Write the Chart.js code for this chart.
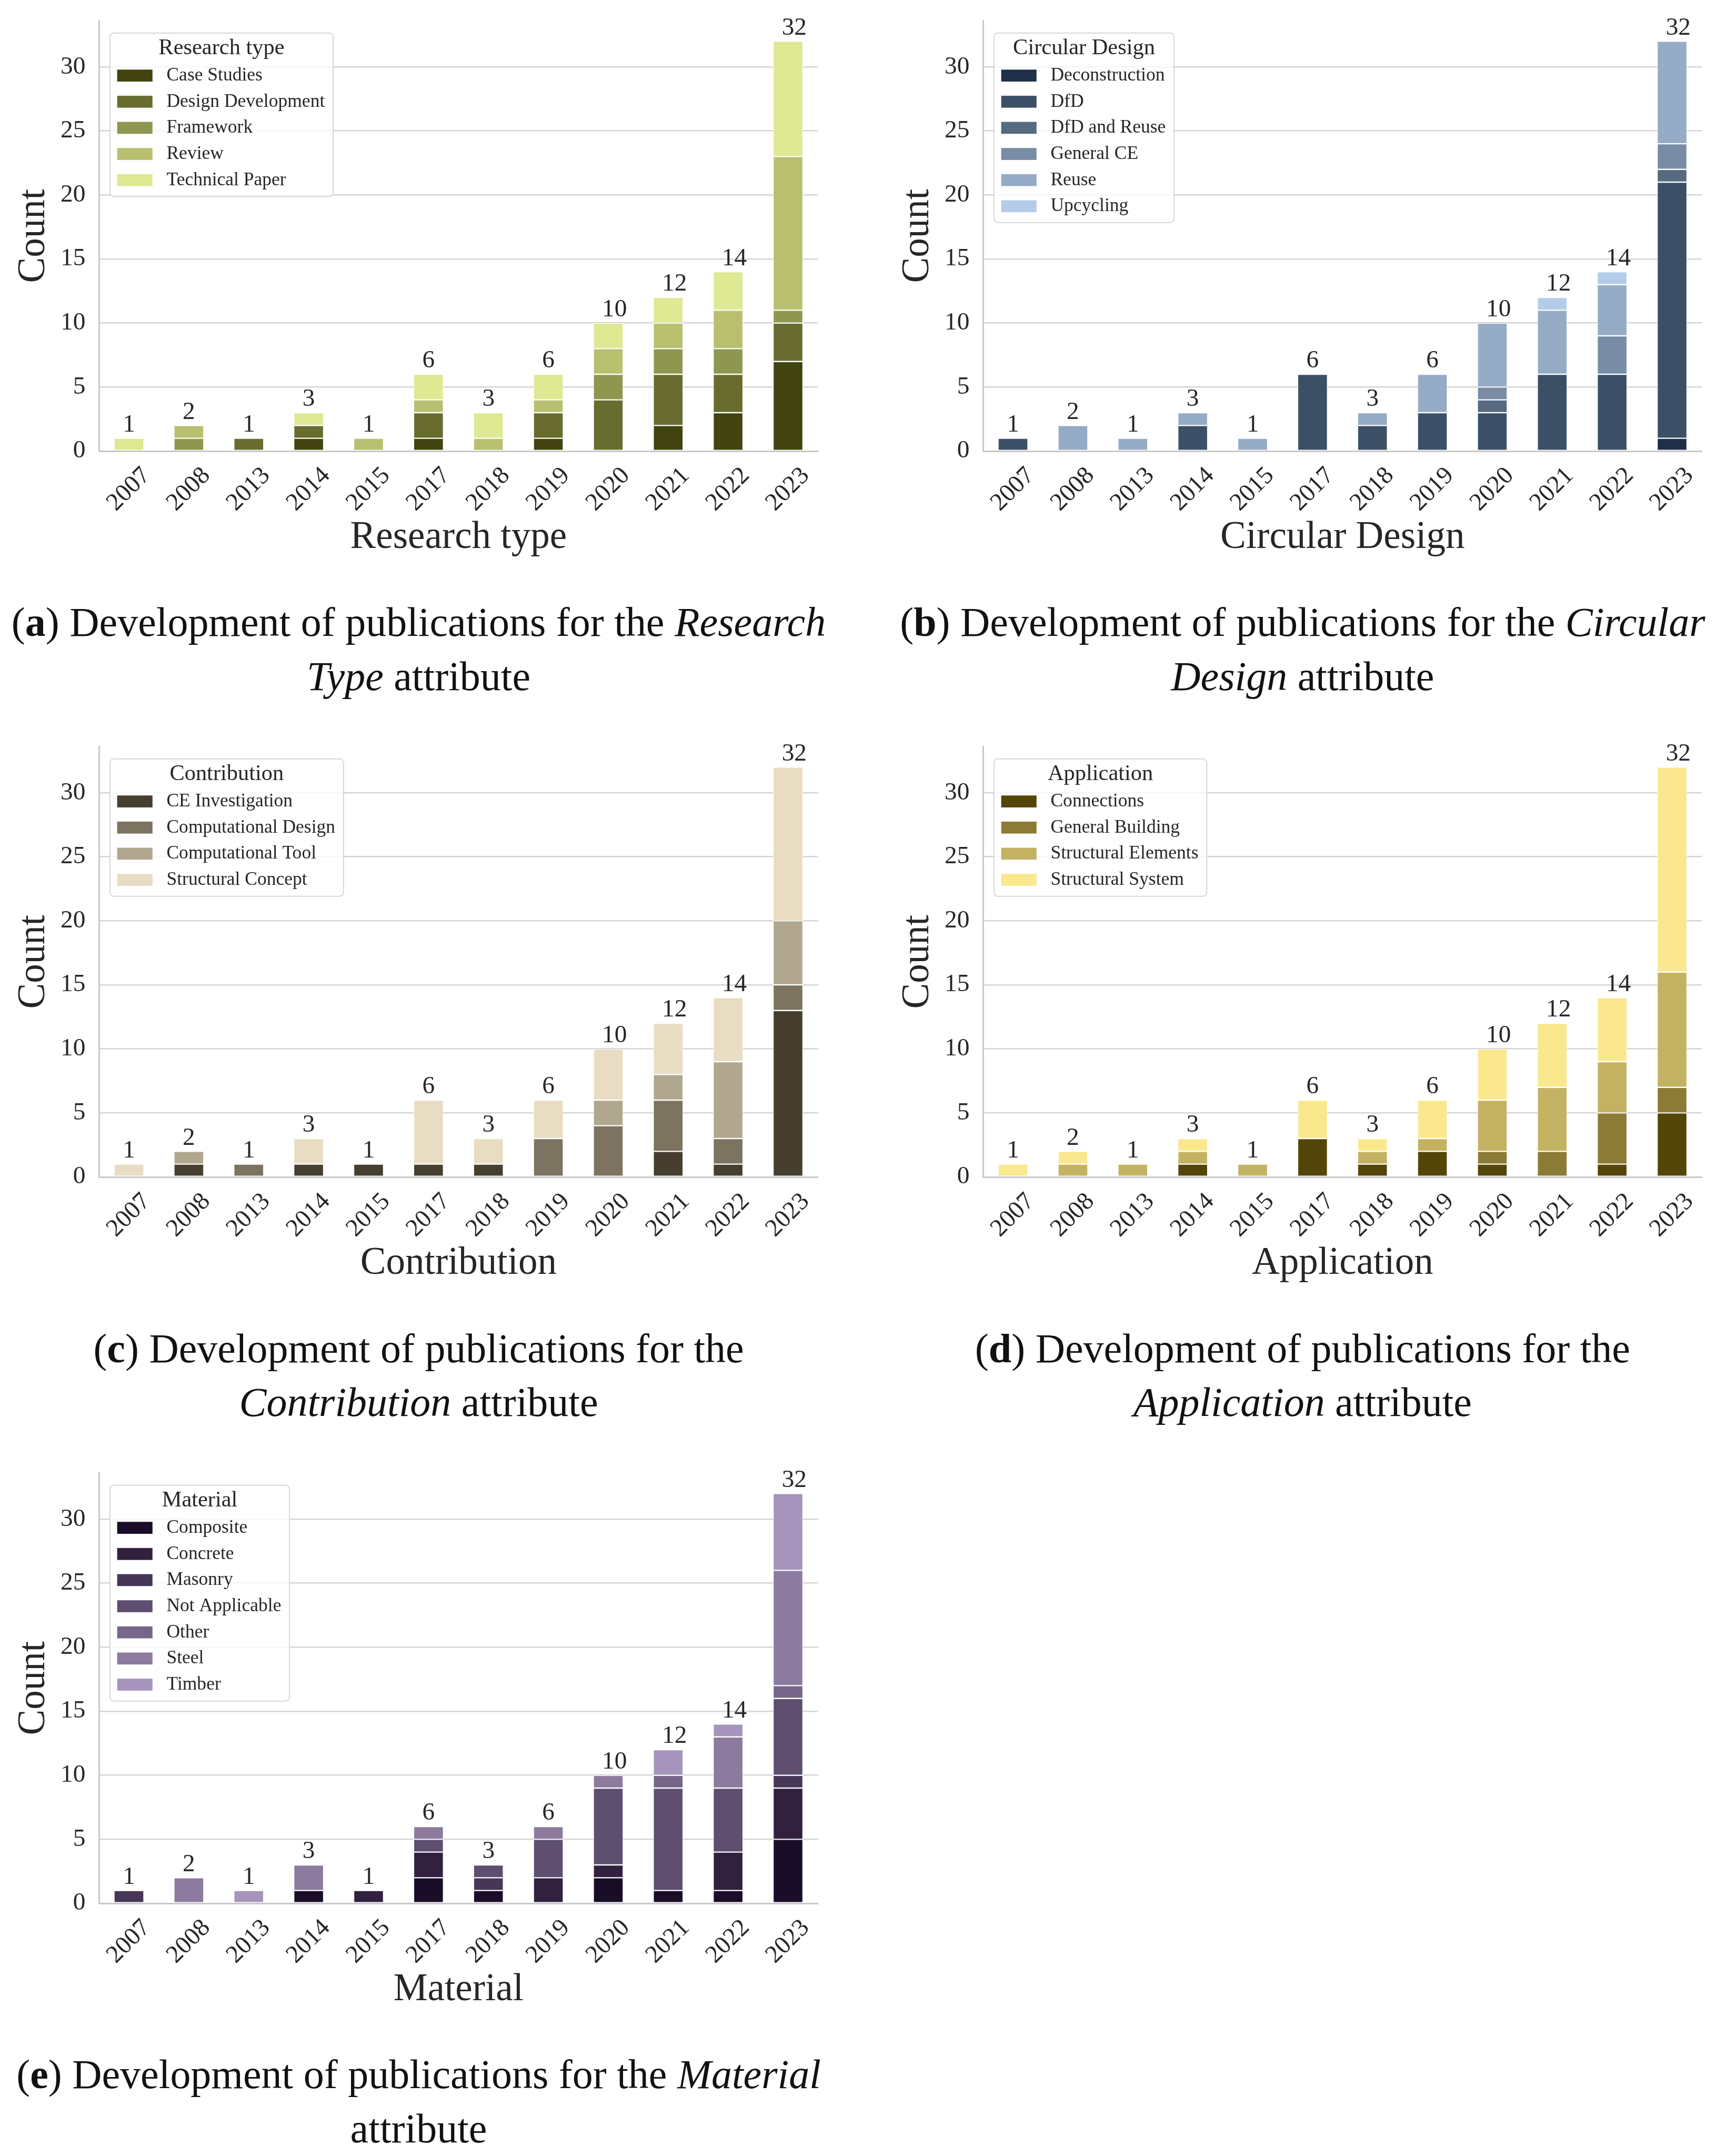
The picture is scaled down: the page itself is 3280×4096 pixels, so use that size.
<!DOCTYPE html>
<html>
<head>
<meta charset="utf-8">
<script src="https://cdn.jsdelivr.net/npm/chart.js@4.4.0/dist/chart.umd.min.js"></script>
<style>
  html, body { margin: 0; padding: 0; background: #fff; }
  #page { position: relative; width: 3280px; height: 4096px; overflow: hidden; background: #fff; }
  canvas { position: absolute; }
  .cap { position: absolute; text-align: center; white-space: nowrap; color: #111; }
</style>
</head>
<body>
<div id="page"></div>
<script>
/* ---------------- DATA ---------------- */
const years  = ["2007", "2008", "2013", "2014", "2015", "2017", "2018", "2019", "2020", "2021", "2022", "2023"];
const yTicks = [0, 5, 10, 15, 20, 25, 30];
const yMax   = 33.6;

// (a) Research type
const rtSeries      = ["Case Studies", "Design Development", "Framework", "Review", "Technical Paper"];
const rtCaseStudies = [0, 0, 0, 1, 0, 1, 0, 1, 0, 2, 3, 7];
const rtDesignDev   = [0, 0, 1, 1, 0, 2, 0, 2, 4, 4, 3, 3];
const rtFramework   = [0, 1, 0, 0, 0, 0, 0, 0, 2, 2, 2, 1];
const rtReview      = [0, 1, 0, 0, 1, 1, 1, 1, 2, 2, 3, 12];
const rtTechPaper   = [1, 0, 0, 1, 0, 2, 2, 2, 2, 2, 3, 9];
const rtColors      = ["#42440f", "#686d2f", "#8f964f", "#b8c070", "#dfe892"];

// (b) Circular Design
const cdSeries         = ["Deconstruction", "DfD", "DfD and Reuse", "General CE", "Reuse", "Upcycling"];
const cdDeconstruction = [0, 0, 0, 0, 0, 0, 0, 0, 0, 0, 0, 1];
const cdDfD            = [1, 0, 0, 2, 0, 6, 2, 3, 3, 6, 6, 20];
const cdDfDReuse       = [0, 0, 0, 0, 0, 0, 0, 0, 1, 0, 0, 1];
const cdGeneralCE      = [0, 0, 0, 0, 0, 0, 0, 0, 1, 0, 3, 2];
const cdReuse          = [0, 2, 1, 1, 1, 0, 1, 3, 5, 5, 4, 8];
const cdUpcycling      = [0, 0, 0, 0, 0, 0, 0, 0, 0, 1, 1, 0];
const cdColors         = ["#1f2f47", "#3b5066", "#566a80", "#788da5", "#96abc6", "#b4cce9"];

// (c) Contribution
const coSeries          = ["CE Investigation", "Computational Design", "Computational Tool", "Structural Concept"];
const coCEInvestigation = [0, 1, 0, 1, 1, 1, 1, 0, 0, 2, 1, 13];
const coCompDesign      = [0, 0, 1, 0, 0, 0, 0, 3, 4, 4, 2, 2];
const coCompTool        = [0, 1, 0, 0, 0, 0, 0, 0, 2, 2, 6, 5];
const coStructConcept   = [1, 0, 0, 2, 0, 5, 2, 3, 4, 4, 5, 12];
const coColors          = ["#463e2f", "#7c7360", "#b1a78f", "#e8dcc3"];

// (d) Application
const apSeries          = ["Connections", "General Building", "Structural Elements", "Structural System"];
const apConnections     = [0, 0, 0, 1, 0, 3, 1, 2, 1, 0, 1, 5];
const apGeneralBuilding = [0, 0, 0, 0, 0, 0, 0, 0, 1, 2, 4, 2];
const apStructElements  = [0, 1, 1, 1, 1, 0, 1, 1, 4, 5, 4, 9];
const apStructSystem    = [1, 1, 0, 1, 0, 3, 1, 3, 4, 5, 5, 16];
const apColors          = ["#544609", "#8c7b35", "#c4b263", "#fbe88e"];

// (e) Material
const maSeries        = ["Composite", "Concrete", "Masonry", "Not Applicable", "Other", "Steel", "Timber"];
const maComposite     = [0, 0, 0, 1, 0, 2, 1, 0, 2, 1, 1, 5];
const maConcrete      = [0, 0, 0, 0, 1, 2, 0, 2, 1, 0, 3, 4];
const maMasonry       = [1, 0, 0, 0, 0, 0, 1, 0, 0, 0, 0, 1];
const maNotApplicable = [0, 0, 0, 0, 0, 1, 1, 3, 6, 8, 5, 6];
const maOther         = [0, 0, 0, 0, 0, 0, 0, 0, 0, 1, 0, 1];
const maSteel         = [0, 2, 0, 2, 0, 1, 0, 1, 1, 0, 4, 9];
const maTimber        = [0, 0, 1, 0, 0, 0, 0, 0, 0, 2, 1, 6];
const maColors        = ["#190d28", "#31213f", "#463759", "#5e4f70", "#766689", "#8c7b9f", "#a594bc"];

const captions = [
  ["(<b>a</b>) Development of publications for the <i>Research</i>", "<i>Type</i> attribute"],
  ["(<b>b</b>) Development of publications for the <i>Circular</i>", "<i>Design</i> attribute"],
  ["(<b>c</b>) Development of publications for the", "<i>Contribution</i> attribute"],
  ["(<b>d</b>) Development of publications for the", "<i>Application</i> attribute"],
  ["(<b>e</b>) Development of publications for the <i>Material</i>", "attribute"]
];
/* ---------------------------------------- */

const S = 0.987;               // reference px -> page px
const s = v => v * S;
const FONT  = '"Liberation Serif", "Times New Roman", serif';
const TEXT  = "#262626";
const GRID  = "#d4d4d4";
const SPINE = "#c8c8c8";

const COL_X = [0, 1702.5];
const ROW_Y = [0, 1397.6, 2795.2];
const CAN_W = 1610, CAN_H = 1100;
const page = document.getElementById("page");

/* x tick labels, bar totals and the boxed legend */
const extras = {
  id: "extras",
  afterDraw(chart, args, opts) {
    const ctx = chart.ctx, xs = chart.scales.x, ys = chart.scales.y, area = chart.chartArea;
    const sets = chart.data.datasets;
    ctx.save();
    ctx.fillStyle = TEXT;

    // rotated year labels, centred on the tick
    ctx.font = `${s(48)}px ${FONT}`;
    ctx.textAlign = "center";
    ctx.textBaseline = "middle";
    chart.data.labels.forEach((lab, i) => {
      ctx.save();
      ctx.translate(xs.getPixelForValue(i), area.bottom + s(74));
      ctx.rotate(-Math.PI / 4);
      ctx.fillText(lab, 0, 0);
      ctx.restore();
    });

    // totals above stacks
    ctx.textAlign = "left";
    ctx.textBaseline = "alphabetic";
    chart.data.labels.forEach((lab, i) => {
      const total = sets.reduce((a, d) => a + d.data[i], 0);
      ctx.fillText(String(total), xs.getPixelForValue(i) - s(12), ys.getPixelForValue(total) - s(13));
    });

    // legend
    ctx.font = `${s(36)}px ${FONT}`;
    const maxW = Math.max(...sets.map(d => ctx.measureText(d.label).width));
    ctx.font = `${s(43)}px ${FONT}`;
    const tW = ctx.measureText(opts.title).width;
    const w = Math.max(s(125) + maxW, tW + s(40));
    const h = s(29.5 + 52.5 + 31.7) + (sets.length - 1) * s(50.3);
    const bx = area.left + s(21), by = area.top + s(23.5);

    ctx.beginPath();
    ctx.roundRect(bx, by, w, h, s(8));
    ctx.fillStyle = "rgba(255,255,255,0.8)";
    ctx.fill();
    ctx.lineWidth = s(2);
    ctx.strokeStyle = "#d6d6d6";
    ctx.stroke();

    ctx.fillStyle = TEXT;
    ctx.textAlign = "center";
    ctx.textBaseline = "middle";
    ctx.fillText(opts.title, bx + w / 2, by + s(29.5));

    ctx.font = `${s(36)}px ${FONT}`;
    ctx.textAlign = "left";
    sets.forEach((d, i) => {
      const cy = by + s(82) + i * s(50.3);
      ctx.fillStyle = d.backgroundColor;
      ctx.fillRect(bx + s(14), cy - s(11.5), s(68), s(23));
      ctx.fillStyle = TEXT;
      ctx.fillText(d.label, bx + s(109), cy);
    });
    ctx.restore();
  }
};

function makeChart(col, row, title, names, series, colors) {
  const cv = document.createElement("canvas");
  cv.width = Math.round(s(CAN_W));
  cv.height = Math.round(s(CAN_H));
  cv.style.left = s(COL_X[col]) + "px";
  cv.style.top = s(ROW_Y[row]) + "px";
  page.appendChild(cv);

  new Chart(cv.getContext("2d"), {
    type: "bar",
    data: {
      labels: years,
      datasets: series.map((vals, i) => ({
        label: names[i],
        data: vals,
        backgroundColor: colors[i],
        borderColor: "#ffffff",
        borderWidth: s(1.2),
        borderSkipped: false,
        barPercentage: 0.5,
        categoryPercentage: 1.0
      }))
    },
    options: {
      responsive: false,
      animation: false,
      devicePixelRatio: 1,
      layout: { padding: { left: 0, top: s(40), right: s(CAN_W - 1575), bottom: 0 } },
      plugins: {
        legend: { display: false },
        tooltip: { enabled: false },
        extras: { title: title }
      },
      scales: {
        x: {
          stacked: true,
          grid: { display: false },
          border: { display: true, color: SPINE, width: s(3) },
          ticks: { display: false },
          title: {
            display: true, text: title, color: TEXT,
            font: { family: FONT, size: s(74) },
            padding: { top: 0, bottom: s(20.6) }
          },
          afterFit: sc => { sc.height = s(232); sc.paddingLeft = 0; sc.paddingRight = 0; }
        },
        y: {
          stacked: true,
          min: 0,
          max: yMax,
          afterBuildTicks: sc => { sc.ticks = yTicks.map(v => ({ value: v })); },
          grid: { color: GRID, lineWidth: s(2.5), drawTicks: false },
          border: { display: true, color: SPINE, width: s(3) },
          ticks: { color: TEXT, font: { family: FONT, size: s(48) }, padding: s(26) },
          title: {
            display: true, text: "Count", color: TEXT,
            font: { family: FONT, size: s(74) },
            padding: { top: s(21.6), bottom: 0 }
          },
          afterFit: sc => { sc.width = s(190.6); sc.paddingTop = 0; sc.paddingBottom = 0; }
        }
      }
    },
    plugins: [extras]
  });
}

function makeCaption(idx, col, row) {
  const cx = [806, 2508][col];
  const d = document.createElement("div");
  d.className = "cap";
  d.style.fontFamily = FONT;
  d.style.left = s(cx - 830) + "px";
  d.style.width = s(1660) + "px";
  d.style.top = s(ROW_Y[row] + 1146) + "px";
  d.style.fontSize = s(79) + "px";
  d.style.lineHeight = s(104) + "px";
  d.innerHTML = captions[idx].join("<br>");
  page.appendChild(d);
}

makeChart(0, 0, "Research type", rtSeries,
  [rtCaseStudies, rtDesignDev, rtFramework, rtReview, rtTechPaper], rtColors);
makeChart(1, 0, "Circular Design", cdSeries,
  [cdDeconstruction, cdDfD, cdDfDReuse, cdGeneralCE, cdReuse, cdUpcycling], cdColors);
makeChart(0, 1, "Contribution", coSeries,
  [coCEInvestigation, coCompDesign, coCompTool, coStructConcept], coColors);
makeChart(1, 1, "Application", apSeries,
  [apConnections, apGeneralBuilding, apStructElements, apStructSystem], apColors);
makeChart(0, 2, "Material", maSeries,
  [maComposite, maConcrete, maMasonry, maNotApplicable, maOther, maSteel, maTimber], maColors);

makeCaption(0, 0, 0);
makeCaption(1, 1, 0);
makeCaption(2, 0, 1);
makeCaption(3, 1, 1);
makeCaption(4, 0, 2);
</script>
</body>
</html>
